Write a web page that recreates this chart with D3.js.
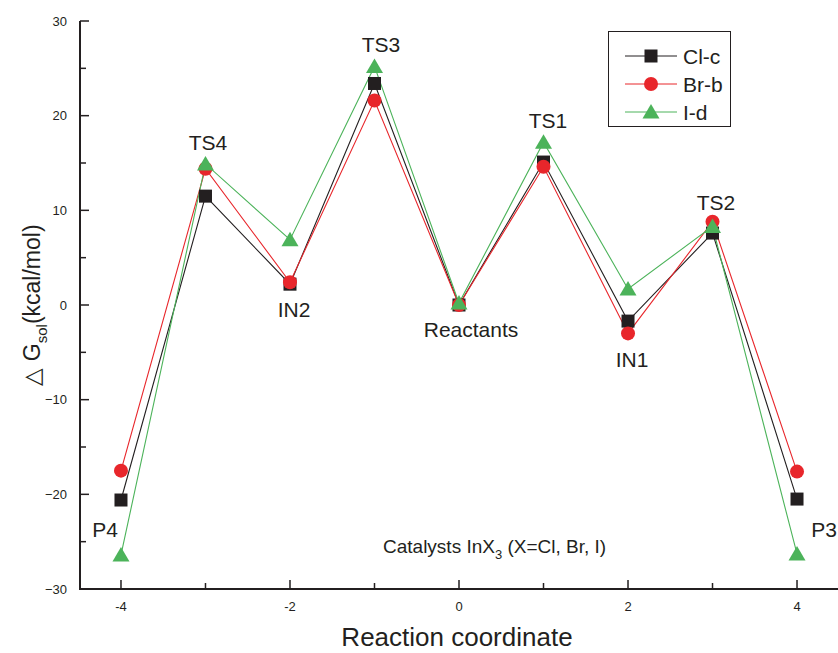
<!DOCTYPE html>
<html><head><meta charset="utf-8">
<script src="https://cdn.jsdelivr.net/npm/d3@7"></script>
<style>body{margin:0;background:#fff}svg{display:block;font-family:"Liberation Sans",Arial,sans-serif}</style>
</head><body>
<script>
const xs = [-4, -3, -2, -1, 0, 1, 2, 3, 4];
const stateLabels = ["P4", "TS4", "IN2", "TS3", "Reactants", "TS1", "IN1", "TS2", "P3"];
const clc = [-20.6, 11.5, 2.2, 23.4, 0, 15.1, -1.7, 7.6, -20.5];
const brb = [-17.5, 14.4, 2.4, 21.6, 0, 14.6, -3.0, 8.8, -17.6];
const idd = [-26.4, 14.9, 6.9, 25.2, 0.2, 17.2, 1.7, 8.3, -26.3];
const seriesNames = ["Cl-c", "Br-b", "I-d"];
const xTicks = [-4, -2, 0, 2, 4];
const yTicks = [-30, -20, -10, 0, 10, 20, 30];

const W = 838, H = 653;
const svg = d3.select("body").append("svg").attr("width", W).attr("height", H);
const x = d3.scaleLinear().domain([-4.485, 4.485]).range([80, 838]);
const y = d3.scaleLinear().domain([-30, 30]).range([589, 21]);

const colors = ["#231f20", "#e8262b", "#4cb35a"];
const series = [clc, brb, idd].map((v, i) => ({name: seriesNames[i], color: colors[i], values: v, shape: i}));

// axes
const gx = svg.append("g").attr("transform", `translate(0,${y(-30)})`);
gx.append("line").attr("x1", 80).attr("x2", 838).attr("stroke", "#231f20").attr("stroke-width", 2);
d3.range(-4, 5, 1).forEach(t => {
  const major = t % 2 === 0;
  gx.append("line").attr("x1", x(t)).attr("x2", x(t)).attr("y1", 0).attr("y2", major ? -9 : -6)
    .attr("stroke", "#231f20").attr("stroke-width", 1.5);
});
xTicks.forEach(t => {
  gx.append("text").attr("x", x(t)).attr("y", 22).attr("text-anchor", "middle")
    .attr("font-size", 13).attr("fill", "#231f20").text(t < 0 ? "-" + Math.abs(t) : t);
});

const gy = svg.append("g").attr("transform", `translate(80,0)`);
gy.append("line").attr("y1", y(-30) + 1).attr("y2", y(30)).attr("stroke", "#231f20").attr("stroke-width", 2);
d3.range(-30, 31, 5).forEach(t => {
  const major = t % 10 === 0;
  gy.append("line").attr("x1", 0).attr("x2", major ? 9 : 6).attr("y1", y(t)).attr("y2", y(t))
    .attr("stroke", "#231f20").attr("stroke-width", 1.5);
});
yTicks.forEach(t => {
  gy.append("text").attr("x", -13).attr("y", y(t) + 4.5).attr("text-anchor", "end")
    .attr("font-size", 13).attr("fill", "#231f20").text(t < 0 ? "\u2212" + Math.abs(t) : t);
});

// axis titles
svg.append("text").attr("x", 457).attr("y", 646).attr("text-anchor", "middle")
  .attr("font-size", 26).attr("fill", "#231f20").text("Reaction coordinate");
const yt = svg.append("text").attr("transform", `translate(40,${305}) rotate(-90)`)
  .attr("text-anchor", "middle").attr("font-size", 23).attr("fill", "#231f20");
yt.append("tspan").text("\u25B3 G");
yt.append("tspan").attr("font-size", 15).attr("dy", 7).text("sol");
yt.append("tspan").attr("dy", -7).text("(kcal/mol)");

// lines
const line = d3.line().x((d, i) => x(xs[i])).y(d => y(d));
series.forEach(s => {
  svg.append("path").attr("d", line(s.values)).attr("fill", "none")
    .attr("stroke", s.color).attr("stroke-width", 1.1);
});

function marker(g, shape, cx, cy, color) {
  if (shape === 0) {
    g.append("rect").attr("x", cx - 6.5).attr("y", cy - 6.5).attr("width", 13).attr("height", 13).attr("fill", color);
  } else if (shape === 1) {
    g.append("circle").attr("cx", cx).attr("cy", cy).attr("r", 7).attr("fill", color);
  } else {
    g.append("path").attr("d", `M${cx},${cy - 8}L${cx + 8.5},${cy + 6.5}L${cx - 8.5},${cy + 6.5}Z`).attr("fill", color);
  }
}
series.forEach(s => {
  const g = svg.append("g");
  s.values.forEach((v, i) => marker(g, s.shape, x(xs[i]), y(v), s.color));
});

// state labels (dx in px from point, v = baseline in data units)
const labelPos = [
  {dx: -16, v: -24.5}, {dx: 2.5, v: 16.37}, {dx: 4, v: -1.27}, {dx: 6.5, v: 26.72},
  {dx: 12, v: -3.38}, {dx: 4.5, v: 18.7}, {dx: 4, v: -6.55}, {dx: 3.5, v: 10.03}, {dx: 27, v: -24.5}
];
stateLabels.forEach((l, i) => {
  svg.append("text").attr("x", x(xs[i]) + labelPos[i].dx).attr("y", y(labelPos[i].v))
    .attr("text-anchor", "middle").attr("font-size", 21).attr("fill", "#231f20").text(l);
});

// catalyst note
const ct = svg.append("text").attr("x", 383).attr("y", 553).attr("font-size", 19).attr("fill", "#231f20");
ct.append("tspan").text("Catalysts InX");
ct.append("tspan").attr("font-size", 13).attr("dy", 6).text("3");
ct.append("tspan").attr("dy", -6).text(" (X=Cl, Br, I)");

// legend
const lg = svg.append("g");
lg.append("rect").attr("x", 608.5).attr("y", 31.5).attr("width", 122).attr("height", 95)
  .attr("fill", "#fff").attr("stroke", "#231f20").attr("stroke-width", 1);
series.forEach((s, i) => {
  const cy = 56 + i * 28;
  lg.append("line").attr("x1", 625).attr("x2", 677).attr("y1", cy).attr("y2", cy).attr("stroke", s.color).attr("stroke-width", 1);
  marker(lg, s.shape, 651, cy, s.color);
  lg.append("text").attr("x", 683).attr("y", cy + 7.5).attr("font-size", 21).attr("fill", "#231f20").text(s.name);
});
</script>
</body></html>
